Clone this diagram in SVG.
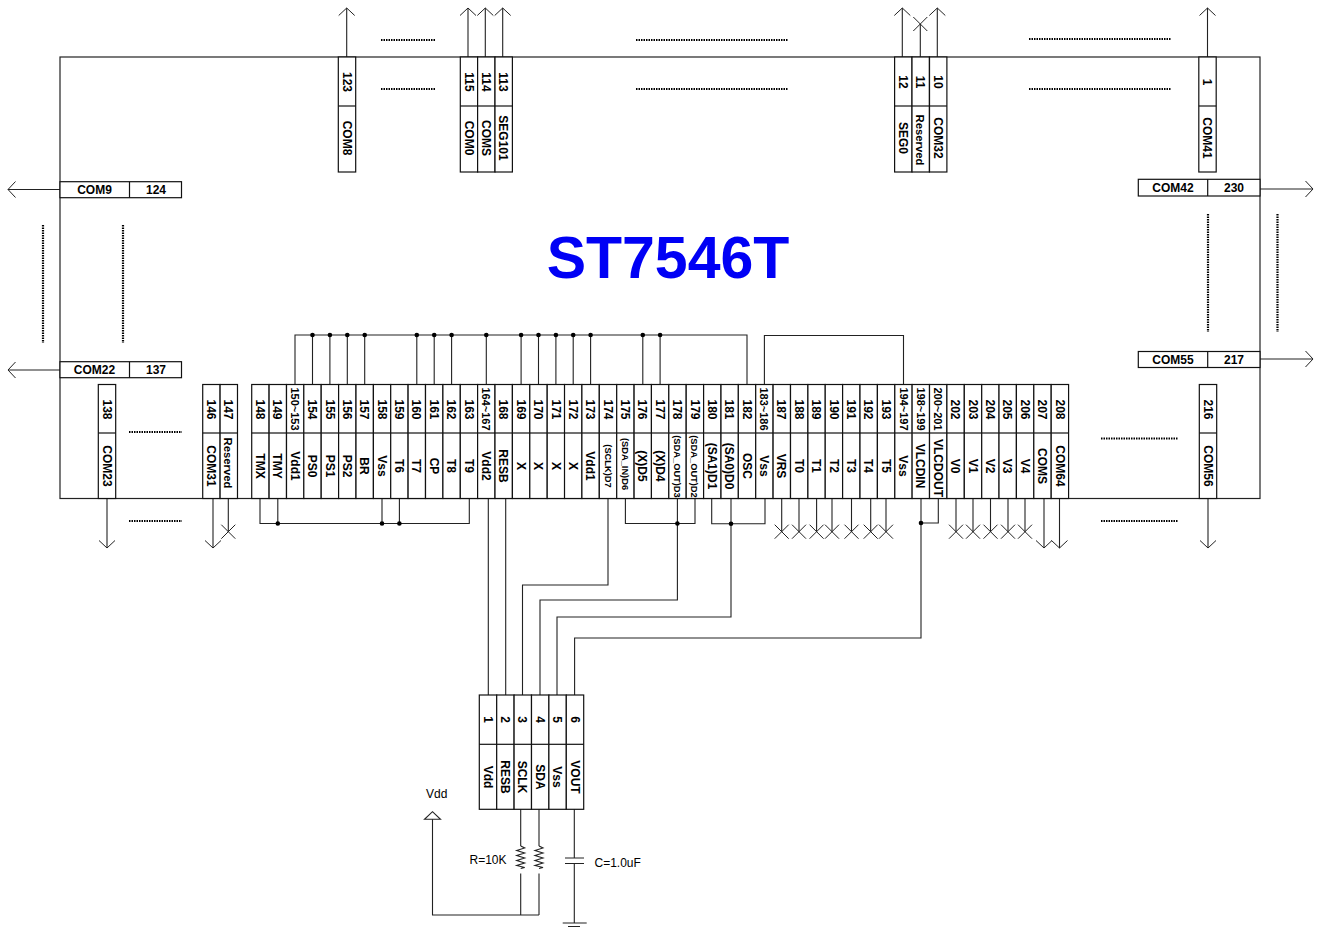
<svg xmlns="http://www.w3.org/2000/svg" xmlns:xlink="http://www.w3.org/1999/xlink" width="1319" height="929" viewBox="0 0 1319 929">
<style>
text{font-family:"Liberation Sans",Arial,sans-serif;fill:#000;font-weight:700;font-size:12px;text-anchor:middle}
.m{font-size:11px}.s{font-size:9.3px}.r{font-size:11.3px}
.plain{font-weight:400;text-anchor:start}
.title{font-size:59px;fill:#0000f5}
.cell{fill:#fff;stroke:#111;stroke-width:1.2}
.w{fill:none;stroke:#222;stroke-width:1.1}
.a{marker-end:url(#arrow)}.x{marker-end:url(#cross)}
.dot{fill:none;stroke:#000;stroke-width:2.2;stroke-dasharray:1.5 1}
.j{fill:#000}
</style>
<defs>
<marker id="arrow" markerUnits="userSpaceOnUse" markerWidth="20" markerHeight="20" viewBox="-10 -10 20 20" refX="0" refY="0" orient="auto"><path d="M-7.5,-8L0,0L-7.5,8" fill="none" stroke="#222" stroke-width="1"/></marker>
<marker id="cross" markerUnits="userSpaceOnUse" markerWidth="20" markerHeight="20" viewBox="-10 -10 20 20" refX="0" refY="0" orient="auto"><path d="M-7,-7L7,7M-7,7L7,-7" fill="none" stroke="#222" stroke-width="1"/></marker>
<g id="bot"><rect class="cell" x="-8.69" y="384.5" width="17.38" height="114"/><path class="cell" d="M-8.69 433H8.69"/></g>
<g id="top"><rect class="cell" x="-8.69" y="57" width="17.38" height="115"/><path class="cell" d="M-8.69 106H8.69"/></g>
<g id="mod"><rect class="cell" x="-8.7" y="695" width="17.4" height="114.3"/><path class="cell" d="M-8.7 744.3H8.7"/></g>
<path id="res" class="w" d="M0 846l4 2-8 2.5 8 2.5-8 2.5 8 2.5-8 2.5 8 2.5-8 2.5 8 2-4 1"/>
</defs>

<g id="st7546t"><rect x="60" y="57" width="1200" height="441.5" fill="#fff" stroke="#222" stroke-width="1.2"/><text class="title" x="668" y="278">ST7546T</text></g>

<g id="connectors">
<path class="w a" d="M346.7 57V8"/><path class="w a" d="M468 57V8"/><path class="w a" d="M485.3 57V8"/><path class="w a" d="M502.7 57V8"/>
<path class="w a" d="M902.3 57V8"/><path class="w x" d="M920.3 57V24"/><path class="w a" d="M937.3 57V8"/><path class="w a" d="M1207.5 57V8"/>
<path class="w a" d="M60 189.5H8"/><path class="w a" d="M60 370H8"/><path class="w a" d="M1260 189H1313"/><path class="w a" d="M1260 359H1313"/>
<path class="w a" d="M107 498V548"/><path class="w a" d="M213 498V548"/><path class="w x" d="M228.3 498V531.7"/><path class="w a" d="M1208 498V548"/>
<path class="w" d="M295 384V335H747V384M312.5 335V384M329.9 335V384M347.3 335V384M364.7 335V384M416.8 335V384M434.2 335V384M451.6 335V384M486.3 335V384M521.1 335V384M538.5 335V384M555.9 335V384M573.2 335V384M590.6 335V384M642.8 335V384M660.1 335V384"/>
<path class="w" d="M764.4 384V335.5H903.5V384"/>
<path class="w" d="M260 498V523.5H469.3V498M277.8 498V523.5M382 498V523.5M399.4 498V523.5"/>
<path class="w" d="M488.3 498V695M505.7 498V695"/>
<path class="w" d="M608 498V585H522.5V695"/>
<path class="w" d="M625.4 498V523.5H695V498M677.4 498V600H540V695"/>
<path class="w" d="M711.7 498V523.7H765V498M731 498V617H557V695"/>
<path class="w" d="M921 498V638H574.6V695M938.3 498V523H921"/>
<path class="w x" d="M781.7 498V531.7"/><path class="w x" d="M799 498V531.7"/><path class="w x" d="M816.6 498V531.7"/><path class="w x" d="M832 498V531.7"/><path class="w x" d="M851.5 498V531.7"/><path class="w x" d="M870.7 498V531.7"/><path class="w x" d="M886 498V531.7"/>
<path class="w x" d="M956 498V531.7"/><path class="w x" d="M973 498V531.7"/><path class="w x" d="M990.5 498V531.7"/><path class="w x" d="M1008 498V531.7"/><path class="w x" d="M1025 498V531.7"/>
<path class="w a" d="M1044 498V548"/><path class="w a" d="M1059.5 498V548"/>
<path class="w" d="M520.7 809V846M520.7 873.5V915M539 809V846M539 873.5V915M432.5 819.3V915H539"/>
<path class="w" d="M424.5 819.3H440.5L432.5 811.7Z"/>
<use xlink:href="#res" href="#res" x="520.7"/><use xlink:href="#res" href="#res" x="539"/>
<path class="w" d="M574.3 809V858M565 858H584M565 863.5H584M574.3 863.5V923M562.7 923H586.7M568 926.5H580"/>
<g class="j"><circle cx="312.5" cy="335" r="2.3"/><circle cx="329.9" cy="335" r="2.3"/><circle cx="347.3" cy="335" r="2.3"/><circle cx="364.7" cy="335" r="2.3"/><circle cx="416.8" cy="335" r="2.3"/><circle cx="434.2" cy="335" r="2.3"/><circle cx="451.6" cy="335" r="2.3"/><circle cx="486.3" cy="335" r="2.3"/><circle cx="521.1" cy="335" r="2.3"/><circle cx="538.5" cy="335" r="2.3"/><circle cx="555.9" cy="335" r="2.3"/><circle cx="573.2" cy="335" r="2.3"/><circle cx="590.6" cy="335" r="2.3"/><circle cx="642.8" cy="335" r="2.3"/><circle cx="660.1" cy="335" r="2.3"/><circle cx="277.8" cy="523.5" r="2.3"/><circle cx="382" cy="523.5" r="2.3"/><circle cx="399.4" cy="523.5" r="2.3"/><circle cx="677.4" cy="523.5" r="2.3"/><circle cx="731" cy="523.7" r="2.3"/><circle cx="921" cy="523" r="2.3"/></g>
<path class="dot" d="M381 40H435M381 89H435M636 40H788M636 89H788M1029 39H1171M1029 89H1171M129 432H182M129 521H182M1101 438.500H1178M1101 521H1178M43 225V343M123 225V343M1208 214V332M1277.500 214V332"/>
</g>

<g id="pin-123" transform="translate(347 0)"><use xlink:href="#top" href="#top"/><text transform="translate(0 82) rotate(90)" y="4.3">123</text><text transform="translate(0 138) rotate(90)" y="4.3">COM8</text></g>
<g id="pin-115" transform="translate(469 0)"><use xlink:href="#top" href="#top"/><text transform="translate(0 82) rotate(90)" y="4.3">115</text><text transform="translate(0 138) rotate(90)" y="4.3">COM0</text></g>
<g id="pin-114" transform="translate(486.300 0)"><use xlink:href="#top" href="#top"/><text transform="translate(0 82) rotate(90)" y="4.3">114</text><text transform="translate(0 138) rotate(90)" y="4.3">COMS</text></g>
<g id="pin-113" transform="translate(503.700 0)"><use xlink:href="#top" href="#top"/><text transform="translate(0 82) rotate(90)" y="4.3">113</text><text transform="translate(0 138) rotate(90)" y="4.3">SEG101</text></g>
<g id="pin-12" transform="translate(903.300 0)"><use xlink:href="#top" href="#top"/><text transform="translate(0 82) rotate(90)" y="4.3">12</text><text transform="translate(0 138) rotate(90)" y="4.3">SEG0</text></g>
<g id="pin-11" transform="translate(920.700 0)"><use xlink:href="#top" href="#top"/><text transform="translate(0 82) rotate(90)" y="4.3">11</text><text class="r" transform="translate(0 140) rotate(90)" y="4.3">Reserved</text></g>
<g id="pin-10" transform="translate(938.200 0)"><use xlink:href="#top" href="#top"/><text transform="translate(0 82) rotate(90)" y="4.3">10</text><text transform="translate(0 138) rotate(90)" y="4.3">COM32</text></g>
<g id="pin-1" transform="translate(1207.500 0)"><use xlink:href="#top" href="#top"/><text transform="translate(0 82) rotate(90)" y="4.3">1</text><text transform="translate(0 138) rotate(90)" y="4.3">COM41</text></g>

<g id="pin-124"><rect class="cell" x="60" y="181.700" width="121.500" height="16"/><path class="cell" d="M129.500 181.700V197.700"/><text x="94.500" y="193.700">COM9</text><text x="156" y="193.700">124</text></g>
<g id="pin-137"><rect class="cell" x="60" y="361.700" width="121.500" height="16"/><path class="cell" d="M129.500 361.700V377.700"/><text x="94.500" y="373.700">COM22</text><text x="156" y="373.700">137</text></g>
<g id="pin-230"><rect class="cell" x="1138.300" y="179.300" width="121.700" height="16.700"/><path class="cell" d="M1207.700 179.300V196"/><text x="1173" y="191.500">COM42</text><text x="1234" y="191.500">230</text></g>
<g id="pin-217"><rect class="cell" x="1138.300" y="351.500" width="121.700" height="16"/><path class="cell" d="M1207.700 351.500V367.500"/><text x="1173" y="363.500">COM55</text><text x="1234" y="363.500">217</text></g>

<g id="pin-138" transform="translate(107 0)"><use xlink:href="#bot" href="#bot"/><text transform="translate(0 409.500) rotate(90)" y="4.3">138</text><text transform="translate(0 466) rotate(90)" y="4.3">COM23</text></g>
<g id="pin-146" transform="translate(211.400 0)"><use xlink:href="#bot" href="#bot"/><text transform="translate(0 409.500) rotate(90)" y="4.3">146</text><text transform="translate(0 466) rotate(90)" y="4.3">COM31</text></g>
<g id="pin-147" transform="translate(228.800 0)"><use xlink:href="#bot" href="#bot"/><text transform="translate(0 409.500) rotate(90)" y="4.3">147</text><text class="r" transform="translate(0 463) rotate(90)" y="4.3">Reserved</text></g>
<g id="pin-216" transform="translate(1208 0)"><use xlink:href="#bot" href="#bot"/><text transform="translate(0 409.500) rotate(90)" y="4.3">216</text><text transform="translate(0 466) rotate(90)" y="4.3">COM56</text></g>

<g id="pin-148" transform="translate(260.400 0)"><use xlink:href="#bot" href="#bot"/><text transform="translate(0 409.500) rotate(90)" y="4.3">148</text><text transform="translate(0 466) rotate(90)" y="4.3">TMX</text></g>
<g id="pin-149" transform="translate(277.800 0)"><use xlink:href="#bot" href="#bot"/><text transform="translate(0 409.500) rotate(90)" y="4.3">149</text><text transform="translate(0 466) rotate(90)" y="4.3">TMY</text></g>
<g id="pin-150" transform="translate(295.200 0)"><use xlink:href="#bot" href="#bot"/><text class="m" transform="translate(0 409) rotate(90)" y="4">150~153</text><text transform="translate(0 466) rotate(90)" y="4.3">Vdd1</text></g>
<g id="pin-154" transform="translate(312.500 0)"><use xlink:href="#bot" href="#bot"/><text transform="translate(0 409.500) rotate(90)" y="4.3">154</text><text transform="translate(0 466) rotate(90)" y="4.3">PS0</text></g>
<g id="pin-155" transform="translate(329.900 0)"><use xlink:href="#bot" href="#bot"/><text transform="translate(0 409.500) rotate(90)" y="4.3">155</text><text transform="translate(0 466) rotate(90)" y="4.3">PS1</text></g>
<g id="pin-156" transform="translate(347.300 0)"><use xlink:href="#bot" href="#bot"/><text transform="translate(0 409.500) rotate(90)" y="4.3">156</text><text transform="translate(0 466) rotate(90)" y="4.3">PS2</text></g>
<g id="pin-157" transform="translate(364.700 0)"><use xlink:href="#bot" href="#bot"/><text transform="translate(0 409.500) rotate(90)" y="4.3">157</text><text transform="translate(0 466) rotate(90)" y="4.3">BR</text></g>
<g id="pin-158" transform="translate(382.100 0)"><use xlink:href="#bot" href="#bot"/><text transform="translate(0 409.500) rotate(90)" y="4.3">158</text><text transform="translate(0 466) rotate(90)" y="4.3">Vss</text></g>
<g id="pin-159" transform="translate(399.400 0)"><use xlink:href="#bot" href="#bot"/><text transform="translate(0 409.500) rotate(90)" y="4.3">159</text><text transform="translate(0 466) rotate(90)" y="4.3">T6</text></g>
<g id="pin-160" transform="translate(416.800 0)"><use xlink:href="#bot" href="#bot"/><text transform="translate(0 409.500) rotate(90)" y="4.3">160</text><text transform="translate(0 466) rotate(90)" y="4.3">T7</text></g>
<g id="pin-161" transform="translate(434.200 0)"><use xlink:href="#bot" href="#bot"/><text transform="translate(0 409.500) rotate(90)" y="4.3">161</text><text transform="translate(0 466) rotate(90)" y="4.3">CP</text></g>
<g id="pin-162" transform="translate(451.600 0)"><use xlink:href="#bot" href="#bot"/><text transform="translate(0 409.500) rotate(90)" y="4.3">162</text><text transform="translate(0 466) rotate(90)" y="4.3">T8</text></g>
<g id="pin-163" transform="translate(469 0)"><use xlink:href="#bot" href="#bot"/><text transform="translate(0 409.500) rotate(90)" y="4.3">163</text><text transform="translate(0 466) rotate(90)" y="4.3">T9</text></g>
<g id="pin-164" transform="translate(486.300 0)"><use xlink:href="#bot" href="#bot"/><text class="m" transform="translate(0 409) rotate(90)" y="4">164~167</text><text transform="translate(0 466) rotate(90)" y="4.3">Vdd2</text></g>
<g id="pin-168" transform="translate(503.700 0)"><use xlink:href="#bot" href="#bot"/><text transform="translate(0 409.500) rotate(90)" y="4.3">168</text><text transform="translate(0 466) rotate(90)" y="4.3">RESB</text></g>
<g id="pin-169" transform="translate(521.100 0)"><use xlink:href="#bot" href="#bot"/><text transform="translate(0 409.500) rotate(90)" y="4.3">169</text><text transform="translate(0 466) rotate(90)" y="4.3">X</text></g>
<g id="pin-170" transform="translate(538.500 0)"><use xlink:href="#bot" href="#bot"/><text transform="translate(0 409.500) rotate(90)" y="4.3">170</text><text transform="translate(0 466) rotate(90)" y="4.3">X</text></g>
<g id="pin-171" transform="translate(555.900 0)"><use xlink:href="#bot" href="#bot"/><text transform="translate(0 409.500) rotate(90)" y="4.3">171</text><text transform="translate(0 466) rotate(90)" y="4.3">X</text></g>
<g id="pin-172" transform="translate(573.200 0)"><use xlink:href="#bot" href="#bot"/><text transform="translate(0 409.500) rotate(90)" y="4.3">172</text><text transform="translate(0 466) rotate(90)" y="4.3">X</text></g>
<g id="pin-173" transform="translate(590.600 0)"><use xlink:href="#bot" href="#bot"/><text transform="translate(0 409.500) rotate(90)" y="4.3">173</text><text transform="translate(0 466) rotate(90)" y="4.3">Vdd1</text></g>
<g id="pin-174" transform="translate(608 0)"><use xlink:href="#bot" href="#bot"/><text transform="translate(0 409.500) rotate(90)" y="4.3">174</text><text class="s" transform="translate(0 466) rotate(90)" y="3.4">(SCLK)D7</text></g>
<g id="pin-175" transform="translate(625.400 0)"><use xlink:href="#bot" href="#bot"/><text transform="translate(0 409.500) rotate(90)" y="4.3">175</text><text class="s" transform="translate(0 464) rotate(90)" y="3.4">(SDA_IN)D6</text></g>
<g id="pin-176" transform="translate(642.800 0)"><use xlink:href="#bot" href="#bot"/><text transform="translate(0 409.500) rotate(90)" y="4.3">176</text><text transform="translate(0 466) rotate(90)" y="4.3">(X)D5</text></g>
<g id="pin-177" transform="translate(660.100 0)"><use xlink:href="#bot" href="#bot"/><text transform="translate(0 409.500) rotate(90)" y="4.3">177</text><text transform="translate(0 466) rotate(90)" y="4.3">(X)D4</text></g>
<g id="pin-178" transform="translate(677.500 0)"><use xlink:href="#bot" href="#bot"/><text transform="translate(0 409.500) rotate(90)" y="4.3">178</text><text class="s" transform="translate(0 466.500) rotate(90)" y="3.4">(SDA_OUT)D3</text></g>
<g id="pin-179" transform="translate(694.900 0)"><use xlink:href="#bot" href="#bot"/><text transform="translate(0 409.500) rotate(90)" y="4.3">179</text><text class="s" transform="translate(0 466.500) rotate(90)" y="3.4">(SDA_OUT)D2</text></g>
<g id="pin-180" transform="translate(712.300 0)"><use xlink:href="#bot" href="#bot"/><text transform="translate(0 409.500) rotate(90)" y="4.3">180</text><text transform="translate(0 466) rotate(90)" y="4.3">(SA1)D1</text></g>
<g id="pin-181" transform="translate(729.700 0)"><use xlink:href="#bot" href="#bot"/><text transform="translate(0 409.500) rotate(90)" y="4.3">181</text><text transform="translate(0 466) rotate(90)" y="4.3">(SA0)D0</text></g>
<g id="pin-182" transform="translate(747 0)"><use xlink:href="#bot" href="#bot"/><text transform="translate(0 409.500) rotate(90)" y="4.3">182</text><text transform="translate(0 466) rotate(90)" y="4.3">OSC</text></g>
<g id="pin-183" transform="translate(764.400 0)"><use xlink:href="#bot" href="#bot"/><text class="m" transform="translate(0 409) rotate(90)" y="4">183~186</text><text transform="translate(0 466) rotate(90)" y="4.3">Vss</text></g>
<g id="pin-187" transform="translate(781.800 0)"><use xlink:href="#bot" href="#bot"/><text transform="translate(0 409.500) rotate(90)" y="4.3">187</text><text transform="translate(0 466) rotate(90)" y="4.3">VRS</text></g>
<g id="pin-188" transform="translate(799.200 0)"><use xlink:href="#bot" href="#bot"/><text transform="translate(0 409.500) rotate(90)" y="4.3">188</text><text transform="translate(0 466) rotate(90)" y="4.3">T0</text></g>
<g id="pin-189" transform="translate(816.600 0)"><use xlink:href="#bot" href="#bot"/><text transform="translate(0 409.500) rotate(90)" y="4.3">189</text><text transform="translate(0 466) rotate(90)" y="4.3">T1</text></g>
<g id="pin-190" transform="translate(833.900 0)"><use xlink:href="#bot" href="#bot"/><text transform="translate(0 409.500) rotate(90)" y="4.3">190</text><text transform="translate(0 466) rotate(90)" y="4.3">T2</text></g>
<g id="pin-191" transform="translate(851.300 0)"><use xlink:href="#bot" href="#bot"/><text transform="translate(0 409.500) rotate(90)" y="4.3">191</text><text transform="translate(0 466) rotate(90)" y="4.3">T3</text></g>
<g id="pin-192" transform="translate(868.700 0)"><use xlink:href="#bot" href="#bot"/><text transform="translate(0 409.500) rotate(90)" y="4.3">192</text><text transform="translate(0 466) rotate(90)" y="4.3">T4</text></g>
<g id="pin-193" transform="translate(886.100 0)"><use xlink:href="#bot" href="#bot"/><text transform="translate(0 409.500) rotate(90)" y="4.3">193</text><text transform="translate(0 466) rotate(90)" y="4.3">T5</text></g>
<g id="pin-194" transform="translate(903.500 0)"><use xlink:href="#bot" href="#bot"/><text class="m" transform="translate(0 409) rotate(90)" y="4">194~197</text><text transform="translate(0 466) rotate(90)" y="4.3">Vss</text></g>
<g id="pin-198" transform="translate(920.800 0)"><use xlink:href="#bot" href="#bot"/><text class="m" transform="translate(0 409) rotate(90)" y="4">198~199</text><text transform="translate(0 466) rotate(90)" y="4.3">VLCDIN</text></g>
<g id="pin-200" transform="translate(938.200 0)"><use xlink:href="#bot" href="#bot"/><text class="m" transform="translate(0 409) rotate(90)" y="4">200~201</text><text transform="translate(0 468) rotate(90)" y="4.3">VLCDOUT</text></g>
<g id="pin-202" transform="translate(955.600 0)"><use xlink:href="#bot" href="#bot"/><text transform="translate(0 409.500) rotate(90)" y="4.3">202</text><text transform="translate(0 466) rotate(90)" y="4.3">V0</text></g>
<g id="pin-203" transform="translate(973 0)"><use xlink:href="#bot" href="#bot"/><text transform="translate(0 409.500) rotate(90)" y="4.3">203</text><text transform="translate(0 466) rotate(90)" y="4.3">V1</text></g>
<g id="pin-204" transform="translate(990.400 0)"><use xlink:href="#bot" href="#bot"/><text transform="translate(0 409.500) rotate(90)" y="4.3">204</text><text transform="translate(0 466) rotate(90)" y="4.3">V2</text></g>
<g id="pin-205" transform="translate(1007.700 0)"><use xlink:href="#bot" href="#bot"/><text transform="translate(0 409.500) rotate(90)" y="4.3">205</text><text transform="translate(0 466) rotate(90)" y="4.3">V3</text></g>
<g id="pin-206" transform="translate(1025.100 0)"><use xlink:href="#bot" href="#bot"/><text transform="translate(0 409.500) rotate(90)" y="4.3">206</text><text transform="translate(0 466) rotate(90)" y="4.3">V4</text></g>
<g id="pin-207" transform="translate(1042.500 0)"><use xlink:href="#bot" href="#bot"/><text transform="translate(0 409.500) rotate(90)" y="4.3">207</text><text transform="translate(0 466) rotate(90)" y="4.3">COMS</text></g>
<g id="pin-208" transform="translate(1059.900 0)"><use xlink:href="#bot" href="#bot"/><text transform="translate(0 409.500) rotate(90)" y="4.3">208</text><text transform="translate(0 466) rotate(90)" y="4.3">COM64</text></g>

<g id="mod-1" transform="translate(488 0)"><use xlink:href="#mod" href="#mod"/><text transform="translate(0 719.500) rotate(90)" y="4.3">1</text><text transform="translate(0 777) rotate(90)" y="4.3">Vdd</text></g>
<g id="mod-2" transform="translate(505.400 0)"><use xlink:href="#mod" href="#mod"/><text transform="translate(0 719.500) rotate(90)" y="4.3">2</text><text transform="translate(0 777) rotate(90)" y="4.3">RESB</text></g>
<g id="mod-3" transform="translate(522.800 0)"><use xlink:href="#mod" href="#mod"/><text transform="translate(0 719.500) rotate(90)" y="4.3">3</text><text transform="translate(0 777) rotate(90)" y="4.3">SCLK</text></g>
<g id="mod-4" transform="translate(540.200 0)"><use xlink:href="#mod" href="#mod"/><text transform="translate(0 719.500) rotate(90)" y="4.3">4</text><text transform="translate(0 777) rotate(90)" y="4.3">SDA</text></g>
<g id="mod-5" transform="translate(557.600 0)"><use xlink:href="#mod" href="#mod"/><text transform="translate(0 719.500) rotate(90)" y="4.3">5</text><text transform="translate(0 777) rotate(90)" y="4.3">Vss</text></g>
<g id="mod-6" transform="translate(575 0)"><use xlink:href="#mod" href="#mod"/><text transform="translate(0 719.500) rotate(90)" y="4.3">6</text><text transform="translate(0 777) rotate(90)" y="4.3">VOUT</text></g>

<g id="labels">
<text class="plain" x="426" y="798">Vdd</text>
<text class="plain" x="469.500" y="864">R=10K</text>
<text class="plain" x="594.500" y="866.500">C=1.0uF</text>
</g>
</svg>
